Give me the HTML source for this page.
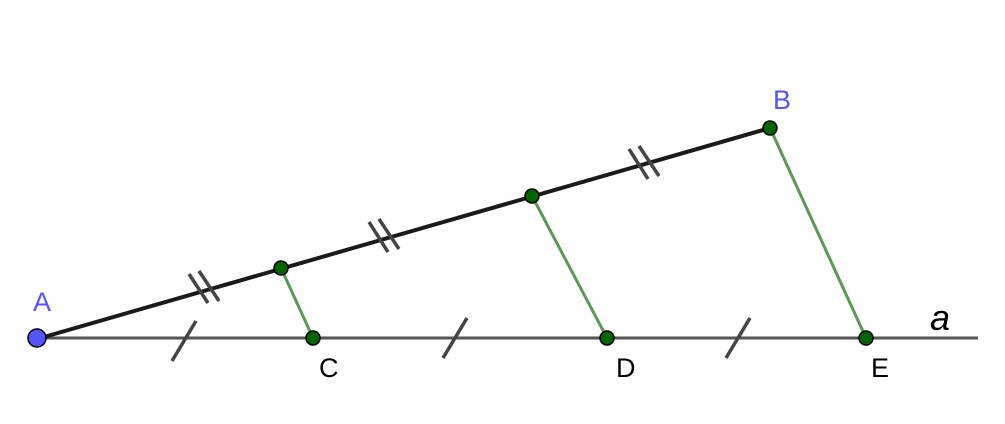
<!DOCTYPE html>
<html><head><style>body{margin:0;background:#fff}svg{display:block}</style></head><body>
<svg width="1005" height="424" viewBox="0 0 1005 424" xmlns="http://www.w3.org/2000/svg">
<line x1="37" y1="338" x2="978" y2="338" stroke="#555" stroke-width="3"/>
<line x1="37" y1="339" x2="770" y2="128" stroke="#1a1a1a" stroke-width="4"/>
<g stroke="#5a9a55" stroke-width="3">
<line x1="281" y1="268" x2="313" y2="338"/>
<line x1="532" y1="196" x2="607" y2="338"/>
<line x1="770" y1="128" x2="866" y2="338"/>
</g>
<g stroke="#444" stroke-width="3.5">
<line x1="172" y1="361" x2="196" y2="321"/>
<line x1="443" y1="358" x2="467" y2="318"/>
<line x1="726" y1="358" x2="750" y2="318"/>
<line x1="189" y1="274" x2="208" y2="303"/>
<line x1="199" y1="271" x2="219" y2="301"/>
<line x1="369" y1="222" x2="388" y2="252"/>
<line x1="379" y1="219" x2="399" y2="249"/>
<line x1="629" y1="149" x2="648" y2="179"/>
<line x1="639" y1="146" x2="659" y2="176"/>
</g>
<g fill="#006400" stroke="#000" stroke-width="1.5">
<circle cx="281" cy="268" r="7"/>
<circle cx="532" cy="196" r="7"/>
<circle cx="770" cy="128" r="7"/>
<circle cx="313" cy="338" r="7"/>
<circle cx="607" cy="338" r="7"/>
<circle cx="866" cy="338" r="7"/>
</g>
<circle cx="37" cy="338" r="9" fill="#5555ff" stroke="#000" stroke-width="1.5"/>
<g font-family="Liberation Sans, sans-serif" font-size="27">
<text x="33" y="311" fill="#5555ff">A</text>
<text x="773" y="109" fill="#5555ff">B</text>
<text x="319" y="377" fill="#000">C</text>
<text x="616" y="377" fill="#000">D</text>
<text x="871" y="377" fill="#000">E</text>
<text x="930" y="330" fill="#000" font-style="italic" font-size="36">a</text>
</g>
</svg>
</body></html>
